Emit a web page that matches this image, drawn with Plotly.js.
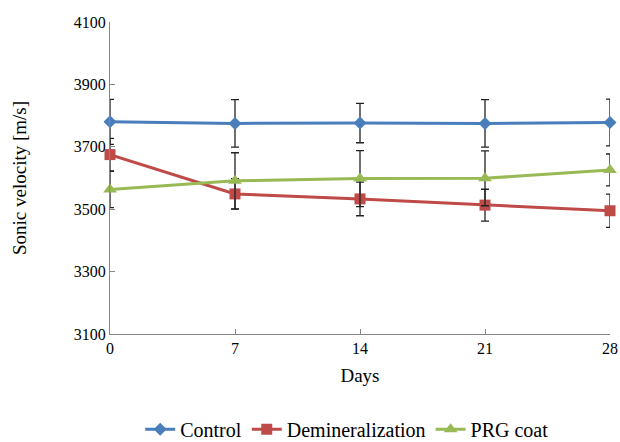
<!DOCTYPE html>
<html>
<head>
<meta charset="utf-8">
<script src="https://cdn.plot.ly/plotly-3.0.1.min.js"></script>
<style>html,body{margin:0;padding:0;background:#fff;}#chart{width:620px;height:442px;}</style>
</head>
<body>
<div id="chart"></div>
<script>
const days = [0, 7, 14, 21, 28];
const controlVals = [3780, 3775, 3776, 3775, 3778];
const controlErr = [72, 76, 63, 76, 75];
const deminVals = [3675, 3549, 3533, 3513, 3495];
const deminErr = [52, 49, 54, 51, 53];
const prgVals = [3563, 3591, 3598, 3599, 3626];
const prgErr = [58, 90, 90, 88, 51];
const yTicks = [3100, 3300, 3500, 3700, 3900, 4100];

const FAM = 'Liberation Serif';
const errStyle = {type: 'data', visible: true, color: '#222', thickness: 1.3, width: 4};
function mk(name, y, err, color, symbol, size) {
  return {
    x: days, y: y, name: name, type: 'scatter', mode: 'lines+markers',
    line: {color: color, width: 3},
    marker: {color: color, symbol: symbol, size: size},
    error_y: Object.assign({array: err}, errStyle),
    cliponaxis: false
  };
}
const data = [
  mk('Control', controlVals, controlErr, '#4A7EBB', 'diamond', 10),
  mk('Demineralization', deminVals, deminErr, '#BE4B48', 'square', 11),
  mk('PRG coat', prgVals, prgErr, '#98B954', 'triangle-up', 12)
];
const layout = {
  width: 620, height: 442,
  margin: {l: 110, r: 10, t: 22, b: 108, autoexpand: false},
  paper_bgcolor: '#fff', plot_bgcolor: '#fff',
  showlegend: true,
  font: {family: FAM, size: 16, color: '#000'},
  xaxis: {
    range: [0, 28], tickvals: days, ticktext: days.map(String),
    showgrid: false, zeroline: false, showline: true, linecolor: '#868686', linewidth: 1,
    ticks: 'inside', ticklen: 5, tickcolor: '#868686',
    tickfont: {family: FAM, size: 16, color: '#000'},
    title: {text: 'Days', font: {family: FAM, size: 19, color: '#000'}, standoff: 12}
  },
  yaxis: {
    range: [3100, 4100], tickvals: yTicks, ticktext: yTicks.map(String),
    showgrid: false, zeroline: false, showline: true, linecolor: '#868686', linewidth: 1,
    ticks: 'inside', ticklen: 5, tickcolor: '#868686',
    tickfont: {family: FAM, size: 16, color: '#000'},
    title: {text: 'Sonic velocity [m/s]', font: {family: FAM, size: 19, color: '#000'}, standoff: 42}
  },
  legend: {
    orientation: 'h', x: 0.56, xref: 'container', xanchor: 'center',
    y: -0.305, yref: 'paper', yanchor: 'middle',
    font: {family: FAM, size: 20, color: '#000'}, itemwidth: 30, tracegroupgap: 0
  }
};
Plotly.newPlot('chart', data, layout, {displayModeBar: false, staticPlot: true});
</script>
</body>
</html>
